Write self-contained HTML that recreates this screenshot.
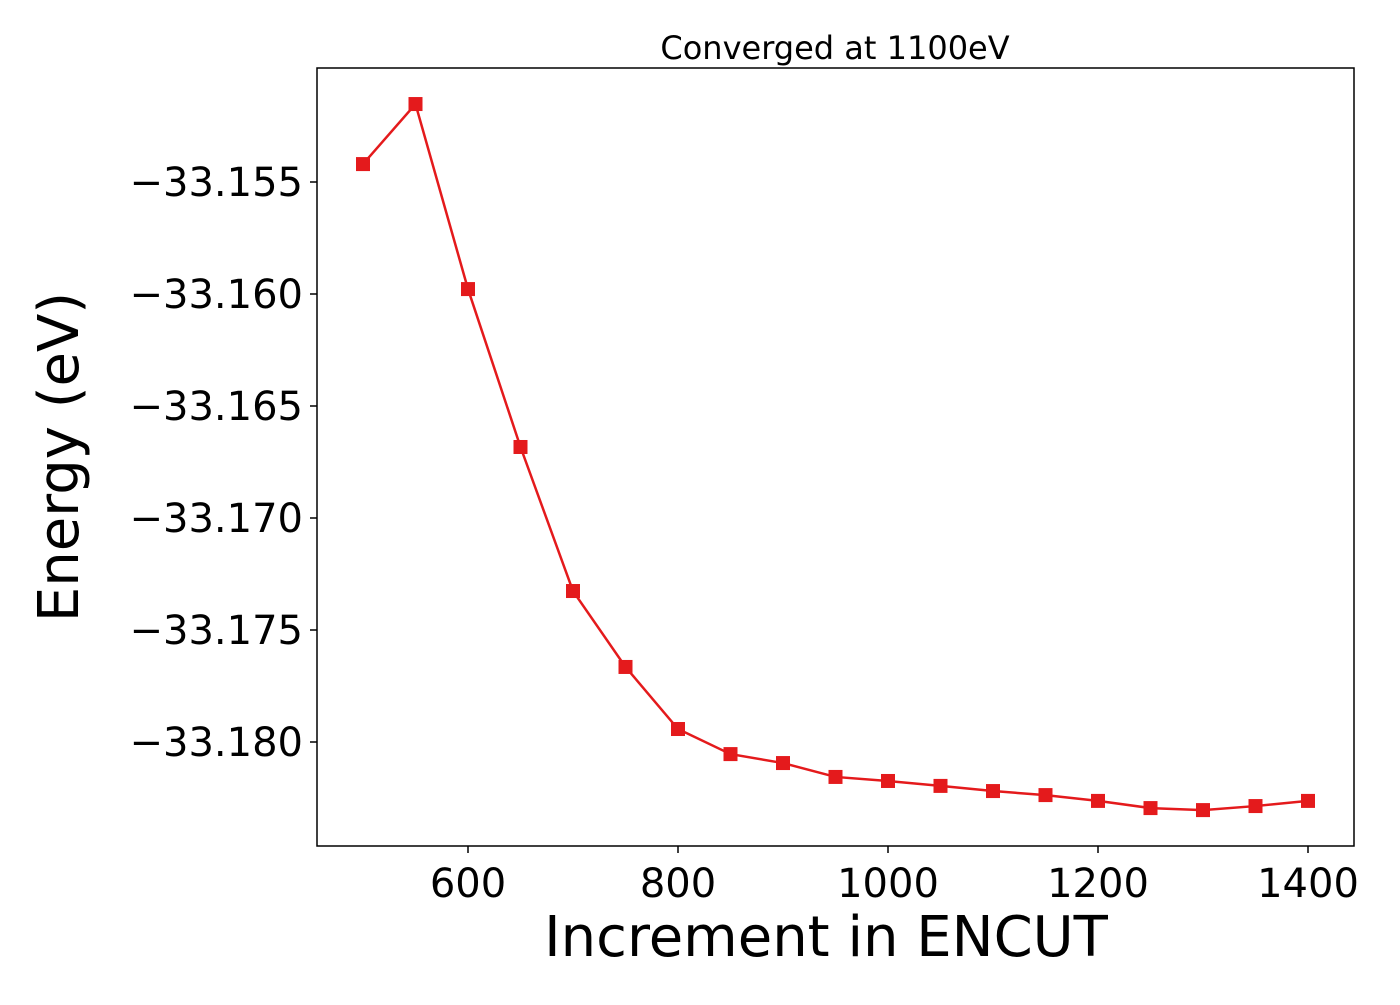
<!DOCTYPE html>
<html><head><meta charset="utf-8"><style>
body{margin:0;background:#fff;}
svg text{font-family:"DejaVu Sans","Liberation Sans",sans-serif;fill:#000;}
</style></head><body>
<svg id="chart" width="1400" height="1000" xmlns="http://www.w3.org/2000/svg">
<text x="835" y="59" font-size="32" text-anchor="middle">Converged at 1100eV</text>
<rect x="317" y="68" width="1037" height="778" fill="none" stroke="#000" stroke-width="1.5"/>
<g id="xticks"></g><g id="yticks"></g>
<text x="826" y="956" font-size="56" text-anchor="middle">Increment in ENCUT</text>
<text transform="translate(78,457) rotate(-90)" font-size="56" text-anchor="middle">Energy (eV)</text>
<g id="series"></g>
</svg>
<script>
const encut=[500,550,600,650,700,750,800,850,900,950,1000,1050,1100,1150,1200,1250,1300,1350,1400];
const energy=[-33.15420,-33.15152,-33.15978,-33.16683,-33.17326,-33.17665,-33.17942,-33.18054,-33.18094,-33.18156,-33.18174,-33.18196,-33.18219,-33.18237,-33.18263,-33.18295,-33.18304,-33.18286,-33.18263];
const xTickVals=[600,800,1000,1200,1400];
const yTickVals=[-33.155,-33.160,-33.165,-33.170,-33.175,-33.180];
const yTickLabels=["\u221233.155","\u221233.160","\u221233.165","\u221233.170","\u221233.175","\u221233.180"];
const NS="http://www.w3.org/2000/svg";
function xs(v){return 468+(v-600)*1.05;}
function ys(v){return 182+(-33.155-v)*22400;}
const xg=document.getElementById('xticks'),yg=document.getElementById('yticks'),sg=document.getElementById('series');
xTickVals.forEach(v=>{
 const l=document.createElementNS(NS,'line');
 
 
 l.setAttribute('x1',xs(v));l.setAttribute('x2',xs(v));l.setAttribute('y1',846);l.setAttribute('y2',853);l.setAttribute('stroke','#000');l.setAttribute('stroke-width','1.5');xg.appendChild(l);
 const t=document.createElementNS(NS,'text');
 
 
 t.setAttribute('x',xs(v));t.setAttribute('y',897);t.setAttribute('font-size','40');t.setAttribute('text-anchor','middle');t.textContent=v;xg.appendChild(t);
});
yTickVals.forEach((v,i)=>{
 const l=document.createElementNS(NS,'line');
 
 
 l.setAttribute('x1',310);l.setAttribute('x2',317);l.setAttribute('y1',ys(v));l.setAttribute('y2',ys(v));l.setAttribute('stroke','#000');l.setAttribute('stroke-width','1.5');yg.appendChild(l);
 const t=document.createElementNS(NS,'text');
 
 
 t.setAttribute('x',303);t.setAttribute('y',ys(v)+14);t.setAttribute('font-size','40');t.setAttribute('text-anchor','end');t.textContent=yTickLabels[i];yg.appendChild(t);
});
const p=document.createElementNS(NS,'polyline');


p.setAttribute('points',encut.map((e,i)=>xs(e)+','+ys(energy[i])).join(' '));
p.setAttribute('fill','none');p.setAttribute('stroke','#e41a1c');p.setAttribute('stroke-width','2.5');sg.appendChild(p);
encut.forEach((e,i)=>{
 const r=document.createElementNS(NS,'rect');
 
 
 r.setAttribute('x',xs(e)-7);r.setAttribute('y',ys(energy[i])-7);r.setAttribute('width',14);r.setAttribute('height',14);r.setAttribute('fill','#e41a1c');sg.appendChild(r);
});
</script>
</body></html>
